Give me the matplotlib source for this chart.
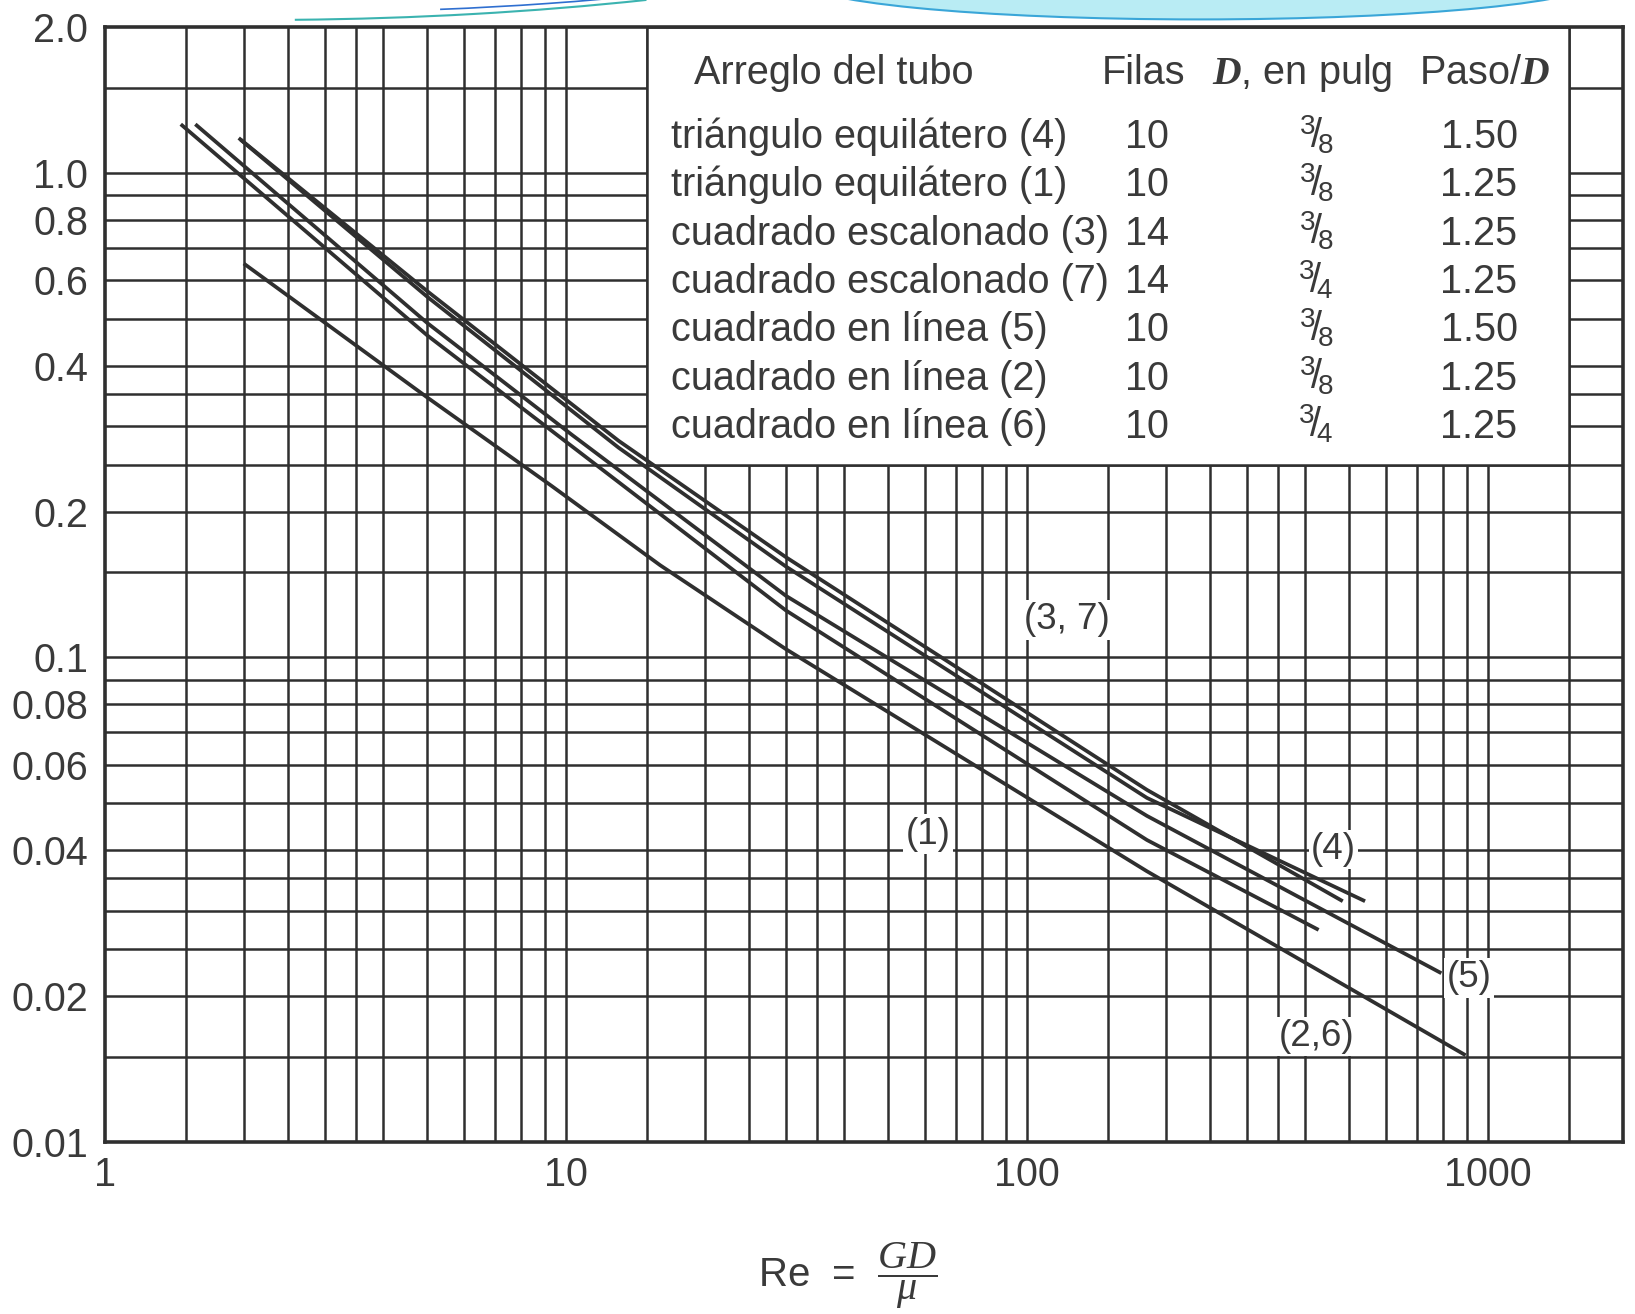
import numpy as np
import matplotlib.pyplot as plt
from matplotlib.patches import Rectangle, Ellipse, Arc

plt.rcParams['font.family'] = ['Liberation Sans', 'DejaVu Sans']
plt.rcParams['mathtext.fontset'] = 'custom'
plt.rcParams['mathtext.rm'] = 'Liberation Sans'
plt.rcParams['mathtext.it'] = 'Liberation Serif:italic'
plt.rcParams['mathtext.bf'] = 'Liberation Serif:italic:bold'

INK = '#2f2f2f'
TXT = '#3a3a3a'

# friction factor curves (Re, f)
re_37 = [1.95, 5.0, 13, 30, 182, 484]
f_37 = [1.18, 0.57, 0.28, 0.161, 0.0533, 0.0314]
re_4 = [1.97, 5.0, 13, 30, 182, 541]
f_4 = [1.17, 0.555, 0.271, 0.154, 0.0513, 0.0314]
re_5 = [1.57, 5.0, 10.3, 30, 182, 792]
f_5 = [1.26, 0.49, 0.288, 0.134, 0.0471, 0.0223]
re_1 = [1.46, 5.0, 30, 182, 429]
f_1 = [1.26, 0.462, 0.125, 0.042, 0.0274]
re_26 = [2.0, 5.0, 9.3, 16, 30, 182, 894]
f_26 = [0.65, 0.344, 0.226, 0.155, 0.104, 0.0362, 0.0151]

curve_tags = ['(3, 7)', '(1)', '(4)', '(5)', '(2,6)']
tag_re = [122, 61, 462, 909, 425]
tag_f = [0.1195, 0.0432, 0.0401, 0.0218, 0.0165]

# table in the upper right
arreglo = ['triángulo equilátero (4)', 'triángulo equilátero (1)',
           'cuadrado escalonado (3)', 'cuadrado escalonado (7)',
           'cuadrado en línea (5)', 'cuadrado en línea (2)', 'cuadrado en línea (6)']
filas = ['10', '10', '14', '14', '10', '10', '10']
diam_num = ['3', '3', '3', '3', '3', '3', '3']
diam_den = ['8', '8', '8', '4', '8', '8', '4']
paso = ['1.50', '1.25', '1.25', '1.25', '1.50', '1.25', '1.25']

x_ticks = [1, 10, 100, 1000]
x_ticklabels = ['1', '10', '100', '1000']
y_ticks = [2.0, 1.0, 0.8, 0.6, 0.4, 0.2, 0.1, 0.08, 0.06, 0.04, 0.02, 0.01]
y_ticklabels = ['2.0', '1.0', '0.8', '0.6', '0.4', '0.2', '0.1', '0.08', '0.06', '0.04', '0.02', '0.01']
grid_steps = [1, 1.5, 2, 2.5, 3, 3.5, 4, 5, 6, 7, 8, 9]

W, H = 1635, 1314


def fx(px):
    return px / W


def fy(py):
    return 1 - py / H


fig = plt.figure(figsize=(W / 100, H / 100), dpi=100)
ax = fig.add_axes([fx(105), fy(1142), fx(1623) - fx(105), fy(27) - fy(1142)])
ax.set_xscale('log')
ax.set_yscale('log')
ax.set_xlim(1, 1962)
ax.set_ylim(0.01, 2.0)

# grid paper
x_grid = [s * 10 ** k for k in range(4) for s in grid_steps if 1 < s * 10 ** k <= 1500]
y_grid = [s * 10 ** k for k in (-2, -1, 0) for s in grid_steps if 0.01 < s * 10 ** k < 2.0]
for xv in x_grid:
    ax.axvline(xv, color=INK, lw=1.8, zorder=1)
for yv in y_grid:
    ax.axhline(yv, color=INK, lw=1.8, zorder=1)

# white box holding the table
ax.add_patch(Rectangle((15, 0.25), 1500 - 15, 2.0 - 0.25, facecolor='white',
                       edgecolor=INK, lw=1.8, zorder=2))

# curves
for re, f in [(re_37, f_37), (re_4, f_4), (re_5, f_5), (re_1, f_1), (re_26, f_26)]:
    ax.plot(re, f, color=INK, lw=2.7, solid_capstyle='butt', solid_joinstyle='round', zorder=3)

for tag, xr, yf in zip(curve_tags, tag_re, tag_f):
    ax.text(xr, yf, tag, ha='center', va='center', fontsize=26.5, color=TXT, zorder=5,
            bbox=dict(facecolor='white', edgecolor='none', pad=1.5))

ax.set_xticks(x_ticks)
ax.set_xticklabels(x_ticklabels)
ax.set_yticks(y_ticks)
ax.set_yticklabels(y_ticklabels)
ax.minorticks_off()
ax.tick_params(length=0, labelsize=28.5, labelcolor=TXT)
ax.tick_params(axis='x', pad=10)
ax.tick_params(axis='y', pad=12)
for sp in ax.spines.values():
    sp.set_linewidth(2.6)
    sp.set_color(INK)

# table text
fs = 28.5
fig.text(fx(694), fy(84), 'Arreglo del tubo', fontsize=fs, color=TXT, va='baseline')
fig.text(fx(1102), fy(84), 'Filas', fontsize=fs, color=TXT, va='baseline')
fig.text(fx(1212), fy(84), r'$\mathbf{D}$, en pulg', fontsize=fs, color=TXT, va='baseline')
fig.text(fx(1419), fy(84), r'Paso/$\mathbf{D}$', fontsize=fs, color=TXT, va='baseline')
for i in range(len(arreglo)):
    yb = 148 + i * 48.3
    fig.text(fx(671), fy(yb), arreglo[i], fontsize=fs, color=TXT, va='baseline')
    fig.text(fx(1147), fy(yb), filas[i], fontsize=fs, color=TXT, va='baseline', ha='center')
    fig.text(fx(1316), fy(yb), r'${}^{%s}\!/\!{}_{%s}$' % (diam_num[i], diam_den[i]),
             fontsize=fs, color=TXT, va='baseline', ha='center')
    fig.text(fx(1479), fy(yb), paso[i], fontsize=fs, color=TXT, va='baseline', ha='center')

# axis title
fig.text(fx(848), fy(1276), r'Re  =  $\dfrac{GD}{\mu}$', fontsize=29, color=TXT,
         ha='center', va='center')

# slide decoration at the top edge
fig.add_artist(Ellipse((fx(1199), fy(-20)), 0.49, 0.06, transform=fig.transFigure,
                       facecolor='#b9ecf4', edgecolor='#3aa6d8', lw=1.5))
fig.add_artist(Arc((fx(260), fy(-300)), 1.357, 0.487, theta1=275, theta2=316,
                   transform=fig.transFigure, edgecolor='#3bb3b0', lw=1.5))
fig.add_artist(Arc((fx(300), fy(-300)), 1.30, 0.475, theta1=290, theta2=314,
                   transform=fig.transFigure, edgecolor='#2f6fd0', lw=1.2))

fig.savefig('out.png', dpi=100, facecolor='white')
